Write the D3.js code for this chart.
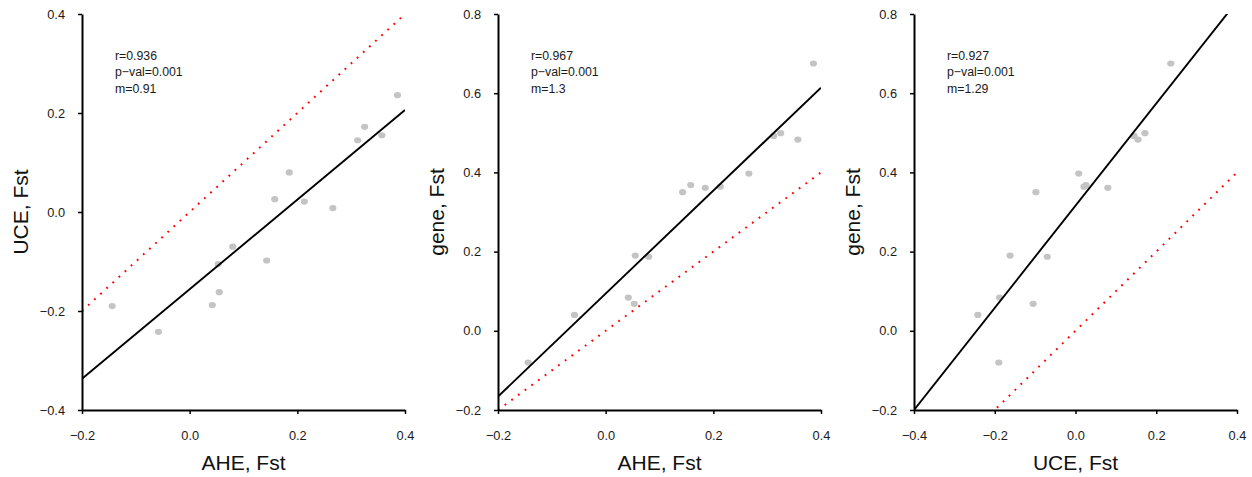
<!DOCTYPE html>
<html>
<head>
<meta charset="utf-8">
<script src="https://cdn.jsdelivr.net/npm/d3@7"></script>
<style>
  html, body { margin: 0; padding: 0; background: #fff; }
  svg { display: block; font-family: "Liberation Sans", Arial, sans-serif; }
</style>
</head>
<body>
<svg id="chart" width="1252" height="477"></svg>
<script>
// ---- data (15 samples) ----
const aheFst  = [-0.144, -0.058, 0.042, 0.053, 0.055, 0.080, 0.143, 0.158, 0.185, 0.213, 0.266, 0.312, 0.325, 0.357, 0.386];
const uceFst  = [-0.190, -0.242, -0.188, -0.105, -0.162, -0.070, -0.098, 0.026, 0.080, 0.021, 0.008, 0.145, 0.172, 0.155, 0.236];
const geneFst = [-0.080, 0.040, 0.084, 0.068, 0.190, 0.187, 0.350, 0.368, 0.361, 0.364, 0.397, 0.492, 0.499, 0.483, 0.675];

// panel definitions
const panelX      = ["AHE, Fst", "AHE, Fst", "UCE, Fst"];
const panelY      = ["UCE, Fst", "gene, Fst", "gene, Fst"];
const xDomains    = [[-0.2, 0.4], [-0.2, 0.4], [-0.4, 0.4]];
const yDomains    = [[-0.4, 0.4], [-0.2, 0.8], [-0.2, 0.8]];
const xTickVals   = [[-0.2, 0.0, 0.2, 0.4], [-0.2, 0.0, 0.2, 0.4], [-0.4, -0.2, 0.0, 0.2, 0.4]];
const yTickVals   = [[-0.4, -0.2, 0.0, 0.2, 0.4], [-0.2, 0.0, 0.2, 0.4, 0.6, 0.8], [-0.2, 0.0, 0.2, 0.4, 0.6, 0.8]];
const fitSlopes   = [0.905, 1.30, 1.29];
const fitIntercepts = [-0.156, 0.094, 0.316];
const statsR      = ["r=0.936", "r=0.967", "r=0.927"];
const statsP      = ["p\u2212val=0.001", "p\u2212val=0.001", "p\u2212val=0.001"];
const statsM      = ["m=0.91", "m=1.3", "m=1.29"];

const xSeries = [aheFst, aheFst, uceFst];
const ySeries = [uceFst, geneFst, geneFst];

// ---- layout ----
const svg = d3.select("#chart");
const left0 = 82, panelStep = 416, plotW = 323, plotTop = 14, plotBottom = 410;
const fmt = v => d3.format(".1f")(v).replace("-", "\u2212");

for (let p = 0; p < 3; p++) {
  const x0 = left0 + p * panelStep;
  const x = d3.scaleLinear().domain(xDomains[p]).range([x0, x0 + plotW]);
  const y = d3.scaleLinear().domain(yDomains[p]).range([plotBottom, plotTop]);
  const g = svg.append("g");

  const clipId = "clip" + p;
  svg.append("clipPath").attr("id", clipId)
    .append("rect").attr("x", x0).attr("y", plotTop).attr("width", plotW).attr("height", plotBottom - plotTop);

  // points
  g.append("g").selectAll("ellipse")
    .data(d3.range(xSeries[p].length))
    .join("ellipse")
    .attr("cx", i => x(xSeries[p][i]))
    .attr("cy", i => y(ySeries[p][i]))
    .attr("rx", 3.6).attr("ry", 3.1)
    .attr("fill", "#c4c4c4");

  const xd = xDomains[p];
  // 1:1 line
  g.append("line")
    .attr("clip-path", `url(#${clipId})`)
    .attr("x1", x(xd[0])).attr("y1", y(xd[0]))
    .attr("x2", x(xd[1])).attr("y2", y(xd[1]))
    .attr("stroke", "#ff0000").attr("stroke-width", 2)
    .attr("stroke-dasharray", "1.8 6.5");

  // regression line
  g.append("line")
    .attr("clip-path", `url(#${clipId})`)
    .attr("x1", x(xd[0])).attr("y1", y(fitIntercepts[p] + fitSlopes[p] * xd[0]))
    .attr("x2", x(xd[1])).attr("y2", y(fitIntercepts[p] + fitSlopes[p] * xd[1]))
    .attr("stroke", "#000").attr("stroke-width", 1.9);

  // axes
  const yAxis = d3.axisLeft(y).tickValues(yTickVals[p]).tickFormat(fmt)
    .tickSize(4).tickSizeOuter(0).tickPadding(13);
  const yg = g.append("g").attr("transform", `translate(${x0},0)`).call(yAxis);
  const xAxis = d3.axisBottom(x).tickValues(xTickVals[p]).tickFormat(fmt)
    .tickSize(4).tickSizeOuter(0).tickPadding(17);
  const xg = g.append("g").attr("transform", `translate(0,${plotBottom})`).call(xAxis);
  [yg, xg].forEach(a => {
    a.attr("font-size", null).attr("font-family", null);
    a.select(".domain").attr("stroke", "#000").attr("stroke-width", 2);
    a.selectAll(".tick line").attr("stroke", "#000").attr("stroke-width", 1.5);
    a.selectAll(".tick text").attr("fill", "#1a1a1a").style("font-size", "12.8px")
      .style("font-family", "'Liberation Sans', Arial, sans-serif");
  });

  // axis titles
  g.append("text")
    .attr("x", x0 + plotW / 2).attr("y", 470)
    .attr("text-anchor", "middle")
    .style("font-size", "21px").attr("fill", "#111")
    .text(panelX[p]);
  g.append("text")
    .attr("transform", `translate(${x0 - 54},${(plotTop + plotBottom) / 2}) rotate(-90)`)
    .attr("text-anchor", "middle")
    .style("font-size", "21px").attr("fill", "#111")
    .text(panelY[p]);

  // stats annotation
  const ann = [statsR[p], statsP[p], statsM[p]];
  g.append("g").selectAll("text").data(ann).join("text")
    .attr("x", x0 + 33).attr("y", (d, i) => 60 + i * 16.3)
    .style("font-size", "12.3px").attr("fill", "#1a1a1a")
    .text(d => d);
}
</script>
</body>
</html>
